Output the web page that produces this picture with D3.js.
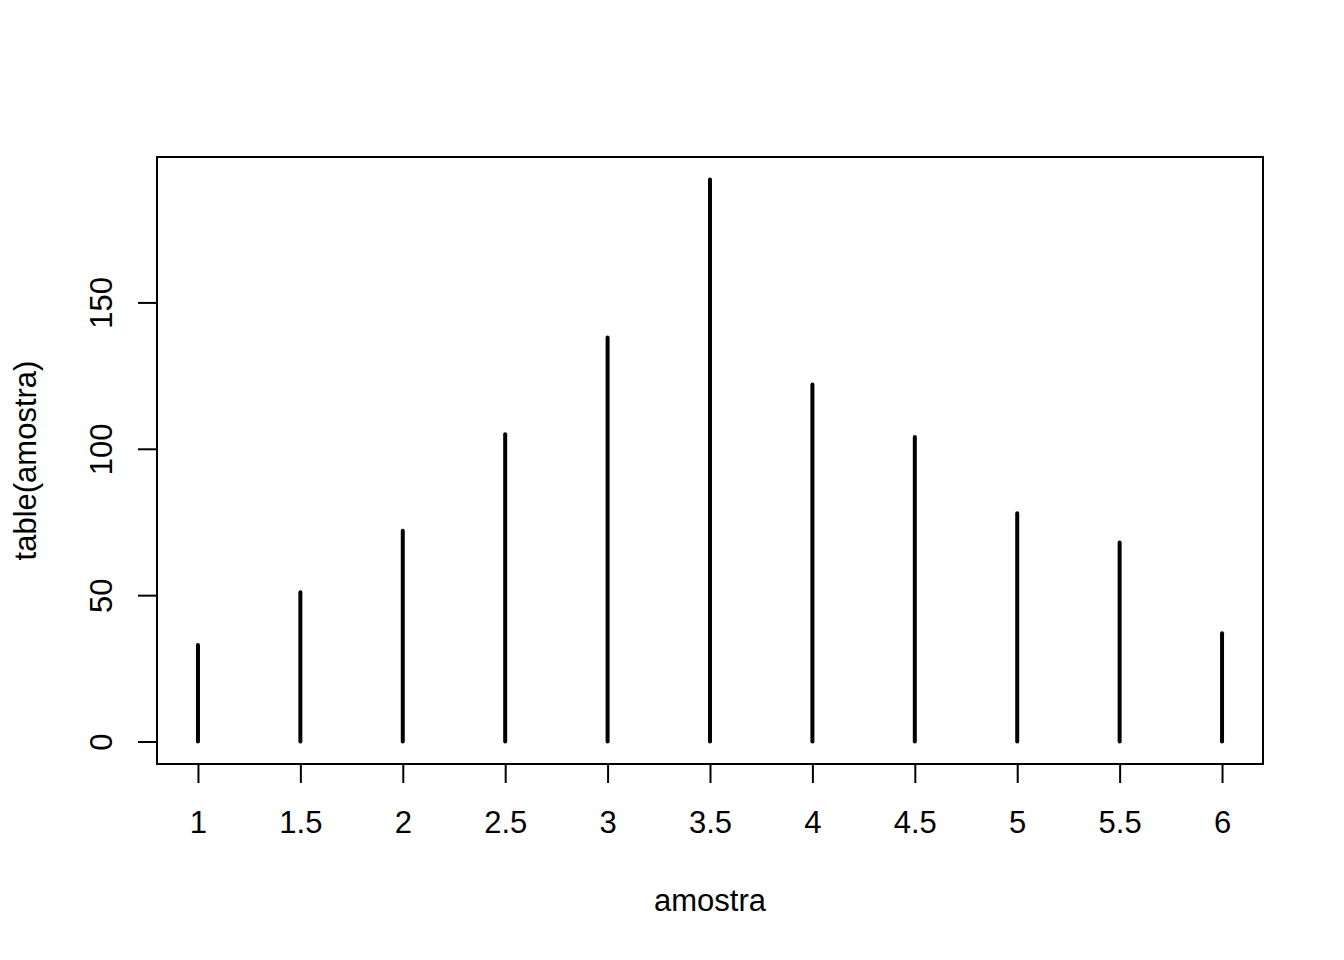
<!DOCTYPE html>
<html>
<head>
<meta charset="utf-8">
<script src="https://cdn.jsdelivr.net/npm/d3@7"></script>
<style>
  html, body { margin: 0; padding: 0; background: #fff; }
  text { font-family: "Liberation Sans", Arial, sans-serif; fill: #000; }
</style>
</head>
<body>
<svg id="chart" width="1344" height="960"></svg>
<script>
const categories = [1, 1.5, 2, 2.5, 3, 3.5, 4, 4.5, 5, 5.5, 6];
const counts = [33, 51, 72, 105, 138, 192, 122, 104, 78, 68, 37];
const xTicks = [1, 1.5, 2, 2.5, 3, 3.5, 4, 4.5, 5, 5.5, 6];
const yTicks = [0, 50, 100, 150];
const xLabel = "amostra";
const yLabel = "table(amostra)";

(function () {
const svg = d3.select("#chart");
const pL = 157, pR = 1263, pT = 157, pB = 764;

const xMin = d3.min(categories), xMax = d3.max(categories);
const xPad = (xMax - xMin) * 0.04;
const x = d3.scaleLinear().domain([xMin - xPad, xMax + xPad]).range([pL, pR]);
const yMax = d3.max(counts);
const yPad = yMax * 0.04;
const y = d3.scaleLinear().domain([-yPad, yMax + yPad]).range([pB, pT]);

// bars (type = "h")
svg.append("g").selectAll("line").data(categories).join("line")
  .attr("x1", d => x(d)).attr("x2", d => x(d))
  .attr("y1", y(0)).attr("y2", (d, i) => y(counts[i]))
  .attr("stroke", "#000").attr("stroke-width", 4).attr("stroke-linecap", "round");

// frame
svg.append("rect").attr("x", pL).attr("y", pT)
  .attr("width", pR - pL).attr("height", pB - pT)
  .attr("fill", "none").attr("stroke", "#000").attr("stroke-width", 2);

// x axis
const xAxis = d3.axisBottom(x).tickValues(xTicks).tickSize(19).tickPadding(0).tickFormat(d3.format("~g"));
const gx = svg.append("g").attr("transform", `translate(0,${pB})`).call(xAxis);
gx.select(".domain").remove();
gx.selectAll(".tick line").attr("stroke", "#000").attr("stroke-width", 2);
gx.selectAll(".tick text").attr("y", 0).attr("dy", 0)
  .attr("transform", "translate(0,69)")
  .style("font-size", "31px").style("font-family", "Liberation Sans, Arial, sans-serif");

// y axis
const yAxis = d3.axisLeft(y).tickValues(yTicks).tickSize(19).tickPadding(0);
const gy = svg.append("g").attr("transform", `translate(${pL},0)`).call(yAxis);
gy.select(".domain").remove();
gy.selectAll(".tick line").attr("stroke", "#000").attr("stroke-width", 2);
gy.selectAll(".tick text")
  .attr("x", 0).attr("dy", 0)
  .attr("transform", "translate(-45,0) rotate(-90)")
  .attr("text-anchor", "middle")
  .style("font-size", "31px").style("font-family", "Liberation Sans, Arial, sans-serif");

// axis titles
svg.append("text").attr("x", (pL + pR) / 2).attr("y", 911)
  .attr("text-anchor", "middle").style("font-size", "31px").text(xLabel);
svg.append("text")
  .attr("transform", `translate(36,${(pT + pB) / 2}) rotate(-90)`)
  .attr("text-anchor", "middle").style("font-size", "31px").text(yLabel);
})();
</script>
</body>
</html>
